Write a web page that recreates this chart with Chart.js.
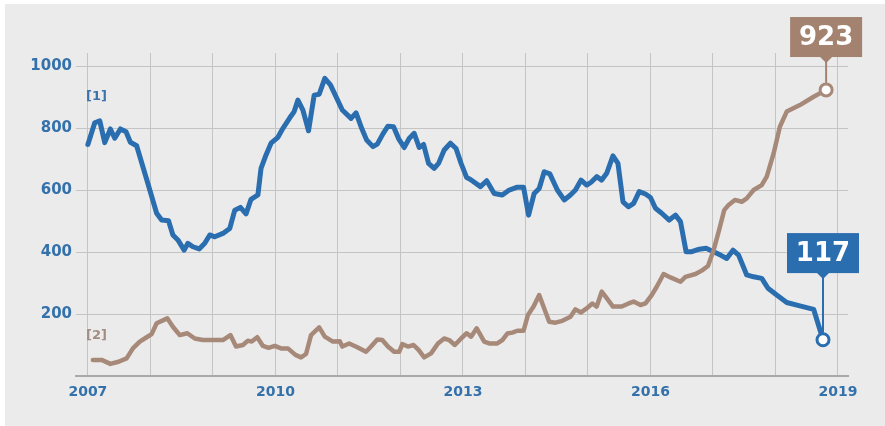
<!doctype html>
<html>
<head>
<meta charset="utf-8">
<script src="https://cdn.jsdelivr.net/npm/chart.js@4"></script>
<style>
  html, body { margin: 0; padding: 0; background: #ffffff; }
  #wrap { position: absolute; left: 5px; top: 4px; width: 880px; height: 422px; background: #ebebeb; }
</style>
</head>
<body>
<div id="wrap"><canvas id="canvas" width="880" height="422"></canvas></div>
<script>
// series [1] (blue)
const blueYears = [2007.00, 2007.11, 2007.19, 2007.27, 2007.36, 2007.43, 2007.52, 2007.61, 2007.68, 2007.78,
  2007.88, 2007.96, 2008.10, 2008.18, 2008.29, 2008.36, 2008.44, 2008.54, 2008.60, 2008.68,
  2008.78, 2008.87, 2008.95, 2009.03, 2009.16, 2009.27, 2009.35, 2009.44, 2009.53, 2009.61,
  2009.72, 2009.77, 2009.85, 2009.93, 2010.04, 2010.12, 2010.23, 2010.30, 2010.36, 2010.44,
  2010.53, 2010.62, 2010.70, 2010.79, 2010.88, 2011.07, 2011.21, 2011.29, 2011.38, 2011.46,
  2011.56, 2011.63, 2011.72, 2011.80, 2011.89, 2011.97, 2012.06, 2012.14, 2012.22, 2012.30,
  2012.37, 2012.45, 2012.54, 2012.61, 2012.70, 2012.80, 2012.89, 2012.97, 2013.06, 2013.12,
  2013.28, 2013.38, 2013.50, 2013.63, 2013.74, 2013.87, 2013.97, 2014.05, 2014.14, 2014.22,
  2014.30, 2014.39, 2014.51, 2014.62, 2014.72, 2014.80, 2014.89, 2014.98, 2015.05, 2015.14,
  2015.22, 2015.30, 2015.40, 2015.48, 2015.56, 2015.65, 2015.73, 2015.82, 2015.92, 2016.00,
  2016.08, 2016.18, 2016.30, 2016.40, 2016.48, 2016.57, 2016.66, 2016.78, 2016.89, 2017.01,
  2017.12, 2017.22, 2017.32, 2017.41, 2017.54, 2017.65, 2017.78, 2017.88, 2018.02, 2018.18,
  2018.39, 2018.61, 2018.76];
const blueValues = [747, 817, 823, 753, 797, 767, 797, 788, 754, 743,
  675, 621, 525, 503, 501, 455, 439, 406, 428, 417,
  410, 428, 455, 449, 460, 476, 535, 544, 523, 570,
  584, 670, 713, 751, 770, 799, 833, 853, 890, 858,
  791, 906, 909, 960, 939, 858, 831, 849, 799, 761,
  740, 748, 781, 806, 804, 766, 737, 766, 783, 737,
  747, 686, 670, 686, 729, 751, 734, 686, 640, 634,
  611, 630, 589, 584, 600, 609, 609, 519, 589, 605,
  659, 652, 600, 568, 584, 600, 632, 616, 625, 643,
  632, 654, 710, 686, 562, 546, 557, 595, 587, 576,
  541, 525, 503, 519, 498, 401, 401, 409, 412, 401,
  390, 379, 406, 390, 326, 320, 315, 283, 261, 237,
  226, 215, 117];

// series [2] (brown)
const brownYears = [2007.08, 2007.22, 2007.36, 2007.49, 2007.62, 2007.72, 2007.83, 2007.94, 2008.02, 2008.10,
  2008.27, 2008.36, 2008.47, 2008.59, 2008.71, 2008.84, 2009.16, 2009.28, 2009.37, 2009.48,
  2009.56, 2009.62, 2009.71, 2009.80, 2009.89, 2009.99, 2010.09, 2010.20, 2010.32, 2010.41,
  2010.49, 2010.57, 2010.70, 2010.79, 2010.92, 2011.03, 2011.07, 2011.18, 2011.31, 2011.45,
  2011.53, 2011.63, 2011.71, 2011.80, 2011.90, 2011.98, 2012.03, 2012.12, 2012.21, 2012.29,
  2012.38, 2012.49, 2012.60, 2012.70, 2012.78, 2012.87, 2012.97, 2013.06, 2013.13, 2013.22,
  2013.34, 2013.42, 2013.55, 2013.63, 2013.71, 2013.79, 2013.87, 2013.97, 2014.04, 2014.13,
  2014.22, 2014.30, 2014.38, 2014.48, 2014.59, 2014.72, 2014.80, 2014.89, 2014.98, 2015.07,
  2015.14, 2015.22, 2015.30, 2015.40, 2015.54, 2015.65, 2015.73, 2015.84, 2015.92, 2016.02,
  2016.10, 2016.21, 2016.32, 2016.48, 2016.56, 2016.72, 2016.82, 2016.92, 2017.01, 2017.09,
  2017.18, 2017.25, 2017.35, 2017.46, 2017.54, 2017.65, 2017.78, 2017.86, 2017.97, 2018.07,
  2018.18, 2018.39, 2018.61, 2018.81];
const brownValues = [52, 52, 39, 46, 57, 89, 111, 125, 135, 170,
  186, 159, 132, 138, 121, 116, 116, 132, 95, 100,
  114, 111, 125, 97, 91, 97, 89, 89, 68, 60,
  71, 132, 157, 127, 111, 112, 95, 105, 93, 78,
  95, 118, 116, 95, 78, 78, 103, 95, 100, 84,
  60, 73, 105, 121, 116, 100, 121, 138, 127, 154,
  111, 105, 105, 116, 137, 140, 146, 146, 197, 224,
  261, 218, 175, 172, 178, 191, 215, 205, 218, 234,
  224, 272, 251, 224, 224, 234, 240, 229, 234, 261,
  288, 329, 318, 304, 320, 329, 340, 355, 406, 465,
  535, 552, 568, 562, 573, 600, 616, 643, 718, 804,
  853, 874, 901, 923];

const xLabelYears = [2007, 2010, 2013, 2016, 2019];
const yTickValues = [200, 400, 600, 800, 1000];

const BLUE = '#2b6eb0';
const BROWN = '#a7897a';
const TICK_BLUE = '#3471ab';

Chart.defaults.font.family = "'DejaVu Sans', sans-serif";

function toPoints(xs, ys) {
  return xs.map((x, i) => ({ x: x, y: ys[i] }));
}

function lastOnly(size) {
  return function(ctx) {
    return ctx.dataIndex === ctx.dataset.data.length - 1 ? size : 0;
  };
}

// callout boxes with the last values, and the [1]/[2] series tags
const calloutPlugin = {
  id: 'callouts',
  afterDatasetsDraw(chart, args, opts) {
    const ctx = chart.ctx;
    const xs = chart.scales.x;
    const ys = chart.scales.y;

    opts.tags.forEach((t) => {
      ctx.save();
      ctx.fillStyle = t.color;
      ctx.font = 'bold 13px "DejaVu Sans"';
      ctx.textAlign = 'left';
      ctx.textBaseline = 'middle';
      ctx.fillText(t.text, xs.getPixelForValue(t.x), ys.getPixelForValue(t.y));
      ctx.restore();
    });

    opts.boxes.forEach((b) => {
      const meta = chart.getDatasetMeta(b.dataset);
      const pt = meta.data[meta.data.length - 1];
      const ds = chart.data.datasets[b.dataset];
      const val = ds.data[ds.data.length - 1].y;
      const px = pt.x;
      const py = pt.y;
      const w = 72, h = 40;
      const bottom = ys.getPixelForValue(b.boxBottom);
      ctx.save();
      ctx.strokeStyle = b.color;
      ctx.lineWidth = 2;
      ctx.beginPath();
      ctx.moveTo(px, bottom);
      ctx.lineTo(px, py - 7);
      ctx.stroke();
      ctx.fillStyle = b.color;
      ctx.fillRect(px - w / 2, bottom - h, w, h);
      ctx.beginPath();
      ctx.moveTo(px - 6, bottom);
      ctx.lineTo(px + 6, bottom);
      ctx.lineTo(px, bottom + 6);
      ctx.closePath();
      ctx.fill();
      ctx.fillStyle = '#ffffff';
      ctx.font = 'bold 26px "DejaVu Sans"';
      ctx.textAlign = 'center';
      ctx.textBaseline = 'middle';
      ctx.fillText(String(val), px, bottom - h / 2 + 1);
      ctx.restore();
    });
  }
};

const config = {
  type: 'line',
  data: {
    datasets: [{
      label: '[2]',
      data: toPoints(brownYears, brownValues),
      borderColor: BROWN,
      borderWidth: 4.5,
      order: 0,
      pointRadius: lastOnly(6),
      pointHoverRadius: lastOnly(6),
      pointBackgroundColor: '#ffffff',
      pointBorderColor: BROWN,
      pointBorderWidth: 3
    }, {
      label: '[1]',
      data: toPoints(blueYears, blueValues),
      borderColor: BLUE,
      borderWidth: 5,
      order: 1,
      pointRadius: lastOnly(6),
      pointHoverRadius: lastOnly(6),
      pointBackgroundColor: '#ffffff',
      pointBorderColor: BLUE,
      pointBorderWidth: 3
    }]
  },
  options: {
    responsive: false,
    animation: false,
    events: [],
    parsing: false,
    elements: {
      line: { tension: 0, borderJoinStyle: 'round', borderCapStyle: 'round', fill: false }
    },
    layout: { padding: { top: 49, right: 37, left: 0, bottom: 0 } },
    scales: {
      x: {
        type: 'linear',
        min: 2006.81,
        max: 2019.16,
        afterFit(scale) { scale.height = 50; },
        ticks: {
          stepSize: 1,
          includeBounds: false,
          autoSkip: false,
          maxRotation: 0,
          padding: 8,
          color: TICK_BLUE,
          font: { size: 14, weight: 'bold' },
          callback: (v) => xLabelYears.includes(v) ? String(v) : ''
        },
        grid: { color: '#c4c4c4', lineWidth: 1, drawTicks: false },
        border: { display: true, color: '#a9a9a9', width: 2 }
      },
      y: {
        min: 0,
        max: 1042,
        afterFit(scale) { scale.width = 71; },
        ticks: {
          stepSize: 200,
          includeBounds: false,
          padding: 4,
          color: TICK_BLUE,
          font: { size: 15, weight: 'bold' },
          callback: (v) => yTickValues.includes(v) ? String(v) : ''
        },
        grid: { color: '#c4c4c4', lineWidth: 1, drawTicks: false },
        border: { display: false }
      }
    },
    plugins: {
      legend: { display: false },
      tooltip: { enabled: false },
      callouts: {
        tags: [
          { text: '[1]', x: 2006.97, y: 901, color: '#3b73aa' },
          { text: '[2]', x: 2006.97, y: 129, color: '#a38c80' }
        ],
        boxes: [
          { dataset: 0, boxBottom: 1029, color: '#a3826f' },
          { dataset: 1, boxBottom: 332, color: '#2b6eb0' }
        ]
      }
    }
  },
  plugins: [calloutPlugin]
};

window.onload = function() {
  const ctx = document.getElementById('canvas').getContext('2d');
  window.myLine = new Chart(ctx, config);
};
</script>
</body>
</html>
